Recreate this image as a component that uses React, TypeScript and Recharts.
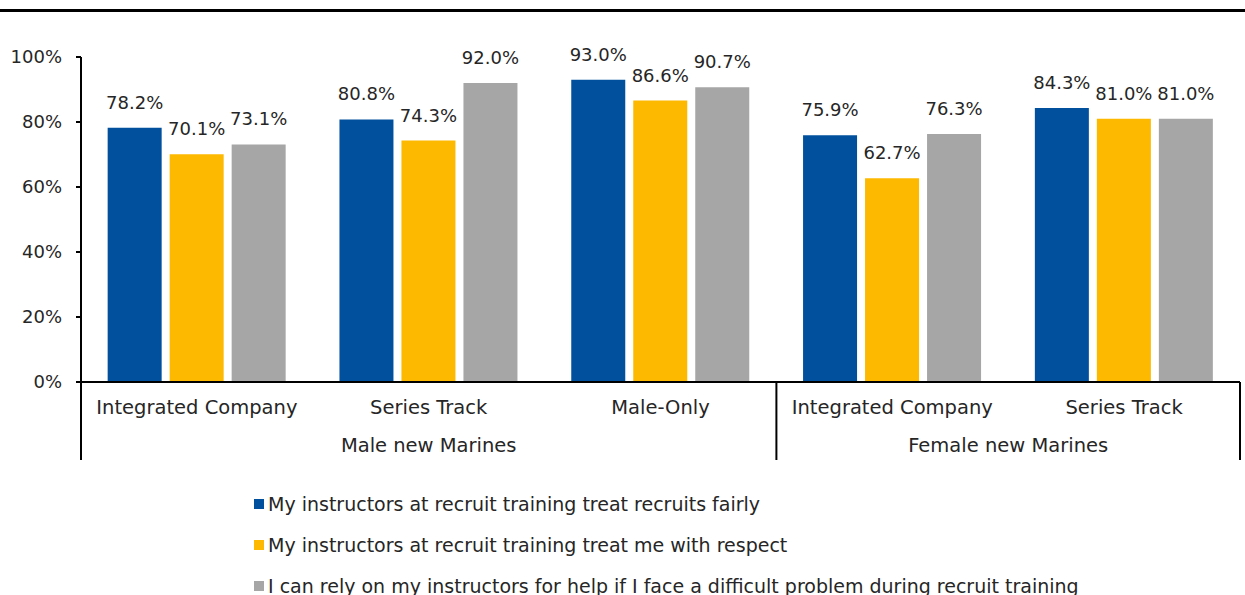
import { BarChart, Bar, XAxis, YAxis, LabelList, Legend } from 'recharts'

const categories = ['Integrated Company', 'Series Track', 'Male-Only', 'Integrated Company', 'Series Track']
const fairly = [78.2, 80.8, 93.0, 75.9, 84.3]
const respect = [70.1, 74.3, 86.6, 62.7, 81.0]
const rely = [73.1, 92.0, 90.7, 76.3, 81.0]
const groups = [
    { label: 'Male new Marines', start: 0, count: 3 },
    { label: 'Female new Marines', start: 3, count: 2 },
]
const yTicks = [0, 20, 40, 60, 80, 100]

const seriesNames = [
    'My instructors at recruit training treat recruits fairly',
    'My instructors at recruit training treat me with respect',
    'I can rely on my instructors for help if I face a difficult problem during recruit training',
]

const data = categories.map((cat, i) => ({
    id: i,
    cat,
    fairly: fairly[i],
    respect: respect[i],
    rely: rely[i],
}))

const W = 1245
const H = 595
const PLOT_LEFT = 81
const PLOT_RIGHT = 1240
const PLOT_BOTTOM = 382
const AXIS_H = 80
const BAND = (PLOT_RIGHT - PLOT_LEFT) / categories.length
const FONT = '"DejaVu Sans", Verdana, sans-serif'
const TEXT = '#262626'

const CategoryTick = (props: any) => {
    const { x, y, payload } = props
    const i = payload.index
    const label = categories[i]
    const grp = groups.find((g) => g.start === i)
    const isLast = i === categories.length - 1
    return (
        <g>
            <text x={x} y={y + 32} textAnchor="middle" fontSize={19.5} fill={TEXT} fontFamily={FONT}>
                {label}
            </text>
            {grp && (
                <>
                    <line x1={x - BAND / 2} x2={x - BAND / 2} y1={y} y2={y + 78} stroke="#000" strokeWidth={2} />
                    <text
                        x={x - BAND / 2 + (grp.count * BAND) / 2}
                        y={y + 70}
                        textAnchor="middle"
                        fontSize={19.5}
                        fill={TEXT}
                        fontFamily={FONT}
                    >
                        {grp.label}
                    </text>
                </>
            )}
            {isLast && (
                <line x1={x + BAND / 2} x2={x + BAND / 2} y1={y} y2={y + 78} stroke="#000" strokeWidth={2} />
            )}
        </g>
    )
}

const LegendBox = (props: any) => {
    const items = [...(props.payload || [])].sort(
        (a: any, b: any) => seriesNames.indexOf(a.value) - seriesNames.indexOf(b.value),
    )
    return (
        <div style={{ fontFamily: FONT, fontSize: 19, color: TEXT }}>
            {items.map((p: any) => (
                <div key={p.value} style={{ display: 'flex', alignItems: 'center', height: 41 }}>
                    <span style={{ width: 10, height: 10, background: p.color, display: 'inline-block', marginRight: 4 }} />
                    <span>{p.value}</span>
                </div>
            ))}
        </div>
    )
}

const fmt = (v: any) => `${Number(v).toFixed(1)}%`

const App = () => {
    return (
        <div style={{ position: 'absolute', left: 0, top: 0, width: W, height: H, background: '#fff' }}>
            <div style={{ position: 'absolute', left: 0, top: 9, width: W, height: 3, background: '#000' }} />
            <BarChart
                width={W}
                height={H}
                data={data}
                margin={{ top: 57, right: W - PLOT_RIGHT, left: 0, bottom: H - PLOT_BOTTOM - AXIS_H }}
                barCategoryGap="11.5%"
                barGap={8}
            >
                <XAxis
                    dataKey="id"
                    tick={<CategoryTick />}
                    tickLine={false}
                    tickSize={0}
                    tickMargin={0}
                    axisLine={{ stroke: '#000', strokeWidth: 2 }}
                    interval={0}
                    height={AXIS_H}
                />
                <YAxis
                    width={PLOT_LEFT}
                    domain={[0, 100]}
                    ticks={yTicks}
                    tickFormatter={(v) => `${v}%`}
                    tick={{ fontSize: 18, fill: TEXT, fontFamily: FONT }}
                    tickSize={5}
                    tickMargin={14}
                    tickLine={{ stroke: '#000', strokeWidth: 2 }}
                    axisLine={{ stroke: '#000', strokeWidth: 2 }}
                />
                <Legend
                    layout="vertical"
                    align="center"
                    verticalAlign="middle"
                    content={<LegendBox />}
                    wrapperStyle={{ position: 'absolute', left: 254, top: 483, width: 950 }}
                />
                <Bar dataKey="fairly" name={seriesNames[0]} fill="#00509E" isAnimationActive={false}>
                    <LabelList dataKey="fairly" position="top" offset={19} formatter={fmt} fontSize={18} fill={TEXT} fontFamily={FONT} />
                </Bar>
                <Bar dataKey="respect" name={seriesNames[1]} fill="#FDB800" isAnimationActive={false}>
                    <LabelList dataKey="respect" position="top" offset={19} formatter={fmt} fontSize={18} fill={TEXT} fontFamily={FONT} />
                </Bar>
                <Bar dataKey="rely" name={seriesNames[2]} fill="#A6A6A6" isAnimationActive={false}>
                    <LabelList dataKey="rely" position="top" offset={19} formatter={fmt} fontSize={18} fill={TEXT} fontFamily={FONT} />
                </Bar>
            </BarChart>
        </div>
    )
}

export default App
